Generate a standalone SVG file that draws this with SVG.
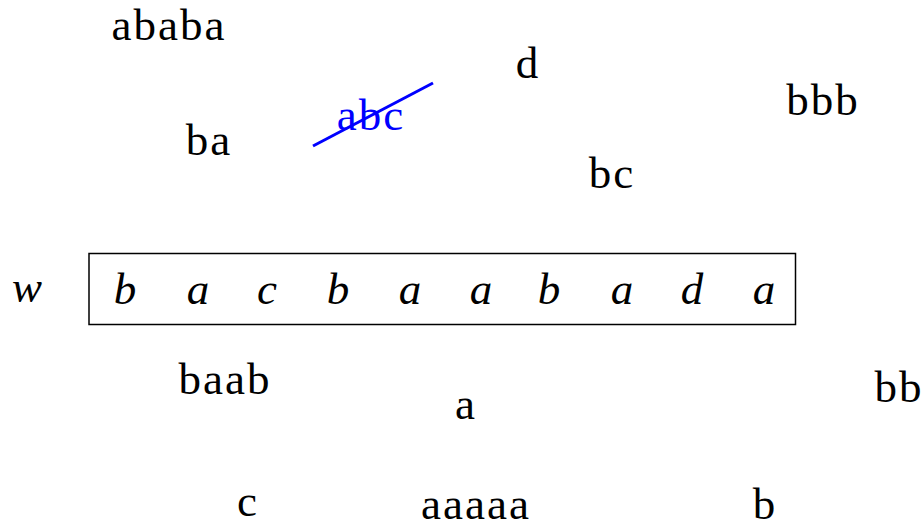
<svg xmlns="http://www.w3.org/2000/svg" width="924" height="529" viewBox="0 0 924 529">
<style>
text{font-family:"Liberation Serif","DejaVu Serif",serif;font-size:45px;fill:#000;text-anchor:middle}
.w{letter-spacing:2px}
.it{font-style:italic}
.blue{fill:#0000ff}
</style>
<rect width="924" height="529" fill="#fff"/>
<g id="words">
<text class="w" x="169" y="40">ababa</text>
<text x="527" y="78">d</text>
<text class="w" x="823" y="115">bbb</text>
<text class="w" x="209" y="155">ba</text>
<text class="w" x="612" y="188">bc</text>
<text class="w" x="225" y="394">baab</text>
<text x="465" y="419">a</text>
<text class="w" x="899" y="402">bb</text>
<text x="247" y="516">c</text>
<text class="w" x="476" y="519">aaaaa</text>
<text x="764" y="519">b</text>
</g>
<g id="struck">
<text class="blue w" x="371" y="130">abc</text>
<line x1="313" y1="146" x2="433" y2="83" stroke="#0000ff" stroke-width="3"/>
</g>
<g id="word-w">
<text class="it" x="27" y="302">w</text>
<rect x="89" y="253.5" width="706.5" height="71" fill="none" stroke="#000" stroke-width="1.5"/>
<text class="it" x="125" y="304">b</text>
<text class="it" x="198" y="304">a</text>
<text class="it" x="267" y="304">c</text>
<text class="it" x="338" y="304">b</text>
<text class="it" x="410" y="304">a</text>
<text class="it" x="481" y="304">a</text>
<text class="it" x="549" y="304">b</text>
<text class="it" x="622" y="304">a</text>
<text class="it" x="692" y="304">d</text>
<text class="it" x="764" y="304">a</text>
</g>
</svg>
